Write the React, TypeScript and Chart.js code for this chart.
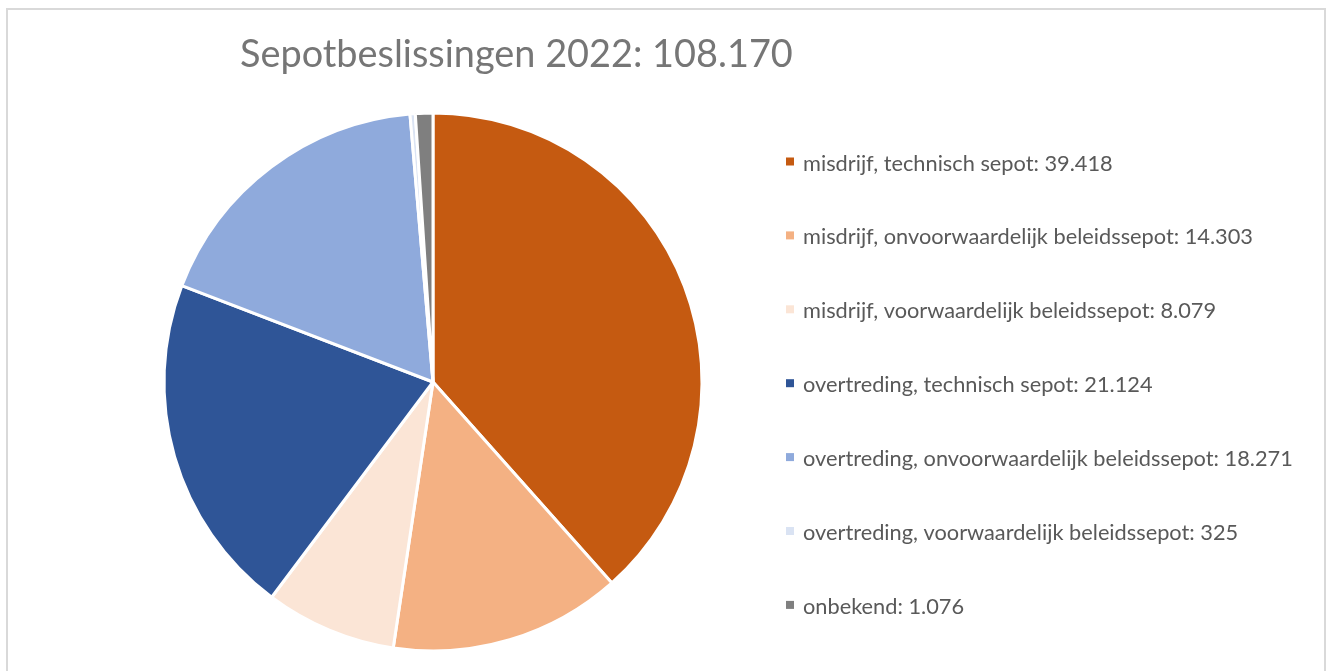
import React, { useEffect, useRef } from "react";
import { Chart, registerables } from "chart.js";

Chart.register(...registerables);

const chartTitle = "Sepotbeslissingen 2022: 108.170";
const categories = [
  "misdrijf, technisch sepot",
  "misdrijf, onvoorwaardelijk beleidssepot",
  "misdrijf, voorwaardelijk beleidssepot",
  "overtreding, technisch sepot",
  "overtreding, onvoorwaardelijk beleidssepot",
  "overtreding, voorwaardelijk beleidssepot",
  "onbekend",
];
const values = [39418, 14303, 8079, 21124, 18271, 325, 1076];
const sliceColors = ["#C55A11", "#F4B183", "#FBE5D6", "#2F5597", "#8FAADC", "#DAE3F3", "#7F7F7F"];

const FONT = "Lato, 'Noto Sans', sans-serif";

function fmtNL(n: number): string {
  return String(n).replace(/\B(?=(\d{3})+(?!\d))/g, ".");
}

function fitFont(ctx: CanvasRenderingContext2D, text: string, targetWidth: number): number {
  ctx.font = `100px ${FONT}`;
  const w = ctx.measureText(text).width;
  return (100 * targetWidth) / w;
}

const overlayPlugin = {
  id: "overlay",
  afterDraw(chart: any) {
    const ctx: CanvasRenderingContext2D = chart.ctx;
    ctx.save();
    // title
    const titleSize = fitFont(ctx, chartTitle, 553);
    ctx.font = `${titleSize}px ${FONT}`;
    ctx.fillStyle = "#767676";
    ctx.textAlign = "left";
    ctx.textBaseline = "alphabetic";
    ctx.fillText(chartTitle, 232, 57);

    // legend
    const labels: string[] = chart.data.labels;
    const data: number[] = chart.data.datasets[0].data;
    const cols: string[] = chart.data.datasets[0].backgroundColor;
    const texts = labels.map((l, i) => `${l}: ${fmtNL(data[i])}`);
    const legSize = fitFont(ctx, texts[0], 310);
    ctx.font = `${legSize}px ${FONT}`;
    const step = 73.9;
    texts.forEach((t, i) => {
      const base = 160.5 + i * step;
      ctx.fillStyle = cols[i];
      ctx.fillRect(778, base - 13, 8, 8);
      ctx.fillStyle = "#595959";
      ctx.fillText(t, 795, base);
    });
    ctx.restore();
  },
};

export default function App() {
  const ref = useRef<HTMLCanvasElement | null>(null);
  useEffect(() => {
    if (!ref.current) return;
    const W = 1316;
    const H = 661;
    const cx = 425;
    const cy = 372;
    const half = 270.5;
    const chart = new Chart(ref.current, {
      type: "pie",
      data: {
        labels: categories,
        datasets: [
          {
            data: values,
            backgroundColor: sliceColors,
            borderColor: "#ffffff",
            borderWidth: 3,
          },
        ],
      },
      options: {
        responsive: false,
        animation: false,
        layout: {
          padding: {
            left: cx - half,
            right: W - (cx + half),
            top: cy - half,
            bottom: H - (cy + half),
          },
        },
        plugins: {
          legend: { display: false },
          title: { display: false },
          tooltip: { enabled: false },
        },
      },
      plugins: [overlayPlugin],
    });
    return () => chart.destroy();
  }, []);
  return (
    <div
      style={{
        position: "fixed",
        left: 6,
        top: 8,
        width: 1320,
        height: 700,
        border: "2px solid #d9d9d9",
        boxSizing: "border-box",
        background: "#fff",
      }}
    >
      <canvas ref={ref} width={1316} height={661} style={{ display: "block", width: 1316, height: 661 }} />
    </div>
  );
}
